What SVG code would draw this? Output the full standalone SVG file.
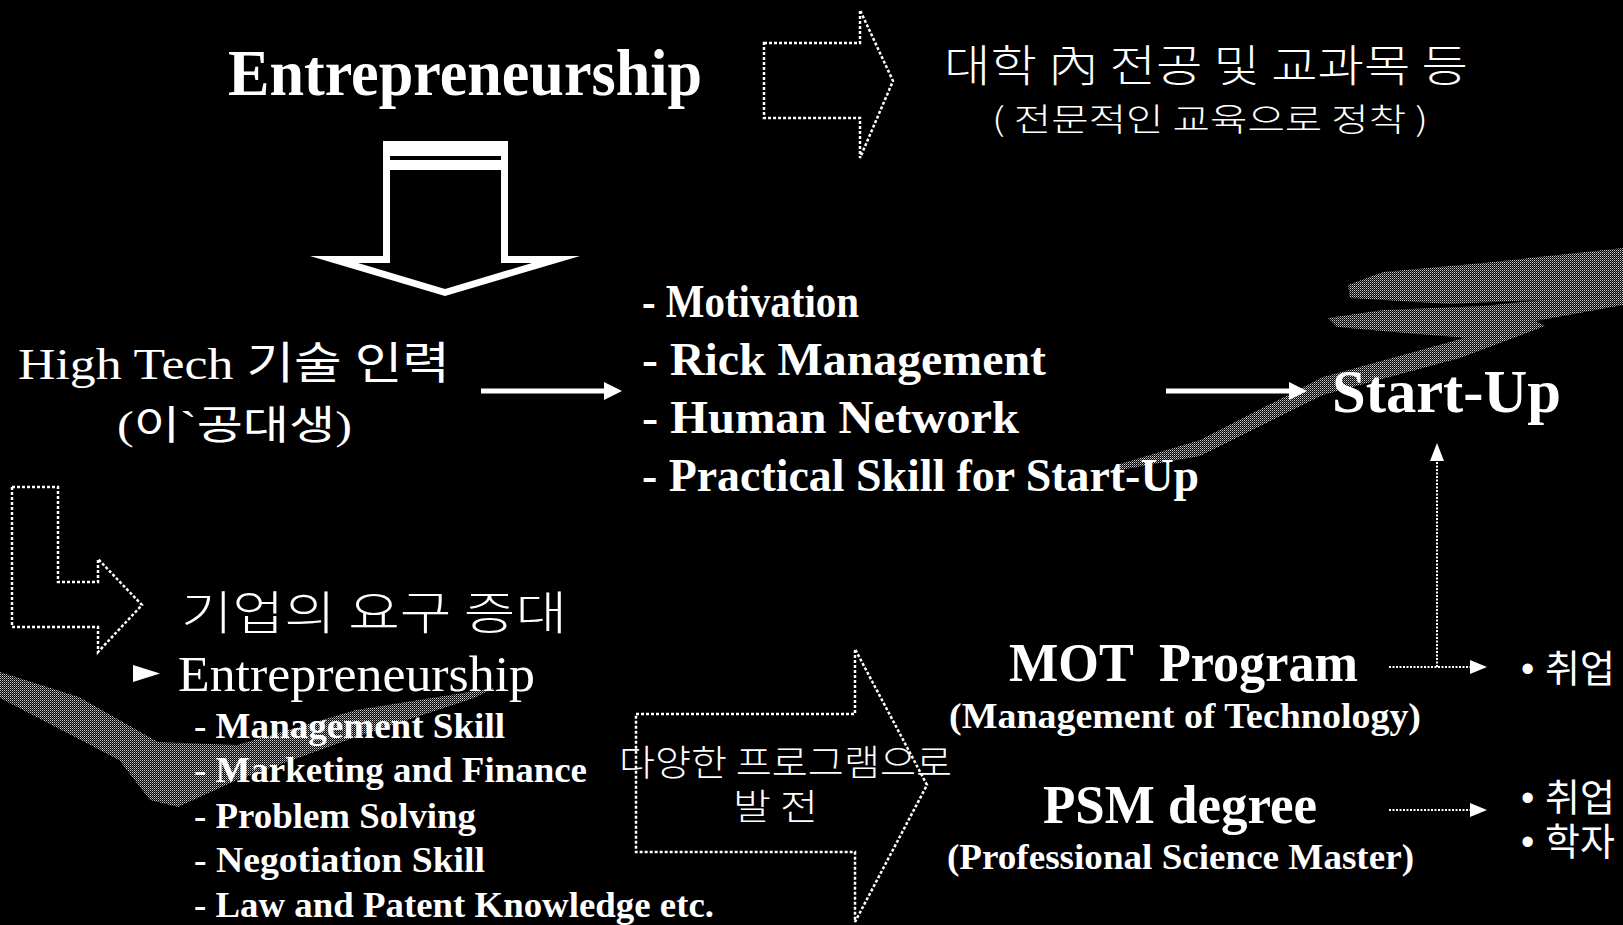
<svg xmlns="http://www.w3.org/2000/svg" width="1623" height="925" viewBox="0 0 1623 925">
<style>
.sb{font-family:"Liberation Serif","Noto Sans CJK KR",serif;font-weight:bold;fill:#fff}
.sr{font-family:"Liberation Serif","Noto Sans CJK KR",serif;fill:#fff}
.kr{font-family:"Noto Sans CJK KR",sans-serif;font-weight:300;fill:#fff}
.ks{font-family:"Liberation Sans","Noto Sans CJK KR",sans-serif;fill:#fff}
.dot{fill:none;stroke:#fff;stroke-width:2.5;stroke-dasharray:3 2}
.dl{fill:none;stroke:#fff;stroke-width:2;stroke-dasharray:2 1.5}
.sol{fill:none;stroke:#fff;stroke-width:5}
.wh{fill:#fff}
.streak{fill:url(#dither)}
</style>
<defs>
<pattern id="dither" width="2" height="2" patternUnits="userSpaceOnUse">
<rect width="2" height="2" fill="#000"/>
<rect x="0" y="0" width="1" height="1" fill="#d0d0d0"/>
<rect x="1" y="1" width="1" height="1" fill="#707070"/>
</pattern>
</defs>
<rect width="1623" height="925" fill="#000"/>

<g id="decor">
<polygon class="streak" points="0,672 79,697 158,742 237,745 356,710 494,688 474,698 356,737 237,780 178,807 150,800 119,760 0,698"/>
<polygon class="streak" points="1348,285 1383,272 1483,263 1623,248 1623,292 1540,300 1450,304 1350,298"/>
<polygon class="streak" points="1328,318 1383,310 1483,306 1560,298 1623,292 1623,305 1530,322 1470,338 1417,334 1337,327"/>
<polygon class="streak" points="1120,464 1200,440 1323,377 1450,342 1530,318 1545,326 1460,358 1323,395 1200,456 1120,470"/>
</g>

<g id="connectors">
<line class="sol" x1="481" y1="391" x2="608" y2="391"/>
<polygon class="wh" points="604,382 622,391 604,400"/>
<line class="sol" x1="1166" y1="391" x2="1292" y2="391"/>
<polygon class="wh" points="1289,382 1307,391 1289,400"/>
<line class="dl" x1="1389" y1="667" x2="1472" y2="667"/>
<polygon class="wh" points="1470,660 1487,667 1470,674"/>
<line class="dl" x1="1437" y1="667" x2="1437" y2="460"/>
<polygon class="wh" points="1430,461 1437,443 1444,461"/>
<line class="dl" x1="1389" y1="810" x2="1472" y2="810"/>
<polygon class="wh" points="1470,803 1487,810 1470,817"/>
</g>

<g id="title">
<text class="sb" x="228" y="95" font-size="66" textLength="474" lengthAdjust="spacingAndGlyphs">Entrepreneurship</text>
</g>

<g id="arrow-top">
<polygon class="dot" points="764,43 860,43 860,10 893,81 860,158 860,118 764,118"/>
</g>

<g id="univ">
<text class="kr" x="944" y="82" font-size="44" textLength="524" lengthAdjust="spacingAndGlyphs">대학 內 전공 및 교과목 등</text>
<text class="kr" x="992" y="131" font-size="32" textLength="436" lengthAdjust="spacingAndGlyphs">( 전문적인 교육으로 정착 )</text>
</g>

<g id="arrow-down">
<polygon class="wh" points="383,141 508,141 508,256 580,256 445,296 310,256 383,256"/>
<polygon fill="#000" points="390,170 501,170 501,263 532,263 445,289 358,263 390,263"/>
<rect x="390" y="156" width="111" height="4" fill="#000"/>
</g>

<g id="hightech">
<text class="sr" x="18" y="379" font-size="44" textLength="432" lengthAdjust="spacingAndGlyphs">High Tech 기술 인력</text>
<text class="sr" x="117" y="439" font-size="40" textLength="235" lengthAdjust="spacingAndGlyphs">(이`공대생)</text>
</g>

<g id="skills">
<text class="sb" x="642" y="317" font-size="46" textLength="217" lengthAdjust="spacingAndGlyphs">- Motivation</text>
<text class="sb" x="642" y="375" font-size="46" textLength="404" lengthAdjust="spacingAndGlyphs">- Rick Management</text>
<text class="sb" x="642" y="433" font-size="46" textLength="377" lengthAdjust="spacingAndGlyphs">- Human Network</text>
<text class="sb" x="642" y="491" font-size="46" textLength="557" lengthAdjust="spacingAndGlyphs">- Practical Skill for Start-Up</text>
</g>

<g id="startup">
<text class="sb" x="1332" y="412" font-size="62" textLength="229" lengthAdjust="spacingAndGlyphs">Start-Up</text>
</g>

<g id="arrow-L">
<polygon class="dot" points="12,487 58,487 58,582 98,582 98,559 142,605 98,652 98,627 12,627"/>
</g>

<g id="demand">
<text class="kr" x="181" y="629" font-size="46" textLength="386" lengthAdjust="spacingAndGlyphs">기업의 요구 증대</text>
<polygon class="wh" points="133,665 160,673.5 133,682"/>
<text class="sr" x="178" y="691" font-size="50" textLength="357" lengthAdjust="spacingAndGlyphs">Entrepreneurship</text>
<text class="sb" x="194" y="738" font-size="36" textLength="311" lengthAdjust="spacingAndGlyphs">- Management Skill</text>
<text class="sb" x="194" y="782" font-size="36" textLength="393" lengthAdjust="spacingAndGlyphs">- Marketing and Finance</text>
<text class="sb" x="194" y="828" font-size="36" textLength="282" lengthAdjust="spacingAndGlyphs">- Problem Solving</text>
<text class="sb" x="194" y="872" font-size="36" textLength="291" lengthAdjust="spacingAndGlyphs">- Negotiation Skill</text>
<text class="sb" x="194" y="917" font-size="36" textLength="520" lengthAdjust="spacingAndGlyphs">- Law and Patent Knowledge etc.</text>
</g>

<g id="arrow-big">
<polygon class="dot" points="636,714 855,714 855,649 927,785 855,922 855,852 636,852"/>
<text class="kr" x="619" y="776" font-size="36" textLength="333" lengthAdjust="spacingAndGlyphs">다양한 프로그램으로</text>
<text class="kr" x="733" y="820" font-size="36" textLength="85" lengthAdjust="spacingAndGlyphs">발 전</text>
</g>

<g id="mot">
<text class="sb" x="1009" y="681" font-size="54" textLength="349" lengthAdjust="spacingAndGlyphs" style="white-space:pre">MOT  Program</text>
<text class="sb" x="949" y="728" font-size="36" textLength="472" lengthAdjust="spacingAndGlyphs">(Management of Technology)</text>
</g>

<g id="psm">
<text class="sb" x="1043" y="823" font-size="54" textLength="274" lengthAdjust="spacingAndGlyphs">PSM degree</text>
<text class="sb" x="947" y="869" font-size="36" textLength="467" lengthAdjust="spacingAndGlyphs">(Professional Science Master)</text>
</g>

<g id="outcomes">
<text class="ks" x="1521" y="682" font-size="38" textLength="94" lengthAdjust="spacing">• 취업</text>
<text class="ks" x="1521" y="811" font-size="38" textLength="94" lengthAdjust="spacing">• 취업</text>
<text class="ks" x="1521" y="855" font-size="38" textLength="94" lengthAdjust="spacing">• 학자</text>
</g>
</svg>
